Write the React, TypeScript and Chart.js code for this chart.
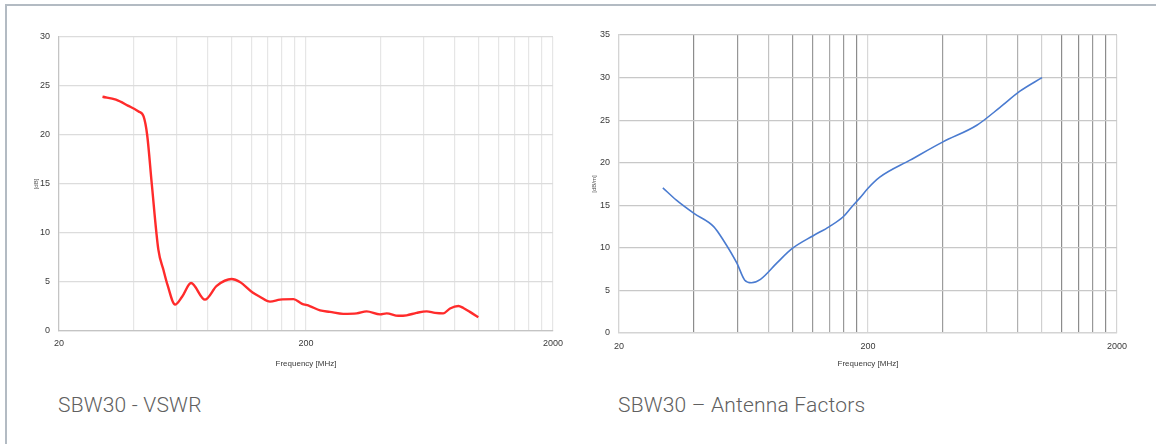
import React, { useEffect, useRef } from "react";
import { Chart, registerables } from "chart.js";

Chart.register(...registerables);

// ---- data ----
const X_TICKS = [20, 40, 60, 80, 100, 120, 140, 160, 180, 200, 400, 600, 800, 1000, 1200, 1400, 1600, 1800, 2000];
const X_LABELED = [20, 200, 2000];
const Y_TICKS_VSWR = [0, 5, 10, 15, 20, 25, 30];
const Y_TICKS_AF = [0, 5, 10, 15, 20, 25, 30, 35];

const VSWR_FREQ = [30, 34, 38, 42, 44, 45.5, 47.5, 50.5, 53, 55, 59, 63, 68.5, 78, 87, 100, 108, 122, 130, 143, 157, 178, 192, 207, 228, 250, 283, 321, 352, 399, 424, 473, 511, 561, 616, 666, 719, 766, 828, 867, 922, 997];
const VSWR_VAL = [23.9, 23.6, 23.0, 22.4, 21.9, 20.0, 15.0, 8.3, 6.2, 4.7, 2.7, 3.5, 4.9, 3.2, 4.6, 5.3, 5.0, 3.9, 3.5, 3.0, 3.2, 3.25, 2.8, 2.55, 2.1, 1.95, 1.75, 1.8, 2.0, 1.7, 1.8, 1.55, 1.6, 1.85, 2.0, 1.85, 1.8, 2.3, 2.55, 2.35, 1.95, 1.4];

const AF_FREQ = [30, 34, 40, 48, 52.5, 59.5, 64, 68, 74, 86, 99, 120, 140, 159, 172, 186, 200, 223, 295, 400, 547, 678, 815, 1000];
const AF_VAL = [17.05, 15.6, 14.05, 12.5, 10.9, 8.2, 6.2, 5.9, 6.3, 8.2, 9.9, 11.4, 12.5, 13.65, 14.8, 15.9, 17.0, 18.3, 20.3, 22.45, 24.4, 26.5, 28.4, 30.0];

// grid shades of the right chart's vertical lines (style)
const AF_GRID_SHADE: Record<number, string> = {
  20: "#d8d8d8", 40: "#8c8c8c", 60: "#969696", 80: "#c2c2c2", 100: "#989898", 120: "#989898", 140: "#a8a8a8",
  160: "#989898", 180: "#8c8c8c", 200: "#d8d8d8", 400: "#9c9c9c", 600: "#c6c6c6", 800: "#b0b0b0",
  1000: "#d0d0d0", 1200: "#8c8c8c", 1400: "#8c8c8c", 1600: "#989898", 1800: "#8c8c8c", 2000: "#d4d4d4",
};

const TICK_FONT = { family: "'Liberation Sans', Arial, sans-serif", size: 9 };
const TITLE_FONT = { family: "'Liberation Sans', Arial, sans-serif", size: 8 };

function makeConfig(opts: {
  freq: number[];
  vals: number[];
  yTicks: number[];
  color: string;
  width: number;
  yTitle: string;
  padding: { left: number; right: number; top: number; bottom: number };
  yWidth: number;
  xHeight: number;
  yTitlePad: number;
  xTickPad: number;
  vGrid: (v: number) => string;
  hGrid: string;
  border: string;
}) {
  const data = opts.freq.map((f, i) => ({ x: f, y: opts.vals[i] }));
  return {
    type: "line" as const,
    data: {
      datasets: [
        {
          data,
          borderColor: opts.color,
          borderWidth: opts.width,
          pointRadius: 0,
          fill: false,
          tension: 0.4,
          cubicInterpolationMode: "monotone" as const,
        },
      ],
    },
    options: {
      responsive: false,
      animation: false as const,
      layout: { padding: opts.padding },
      plugins: { legend: { display: false }, tooltip: { enabled: false } },
      scales: {
        x: {
          type: "logarithmic" as const,
          min: 20,
          max: 2000,
          afterBuildTicks: (scale: any) => {
            scale.ticks = X_TICKS.map((v) => ({ value: v }));
          },
          afterFit: (scale: any) => {
            scale.height = opts.xHeight;
          },
          ticks: {
            autoSkip: false,
            maxRotation: 0,
            padding: opts.xTickPad,
            color: "#3a3a3a",
            font: TICK_FONT,
            callback: (v: any) => (X_LABELED.includes(Number(v)) ? String(v) : ""),
          },
          grid: {
            drawTicks: false,
            color: (ctx: any) => opts.vGrid(ctx.tick ? ctx.tick.value : 0),
            lineWidth: 1.2,
          },
          border: { color: opts.border, width: 1.2 },
          title: {
            display: true,
            text: "Frequency [MHz]",
            color: "#3a3a3a",
            font: TITLE_FONT,
            padding: { top: 0, bottom: 11 },
          },
        },
        y: {
          min: opts.yTicks[0],
          max: opts.yTicks[opts.yTicks.length - 1],
          afterBuildTicks: (scale: any) => {
            scale.ticks = opts.yTicks.map((v) => ({ value: v }));
          },
          afterFit: (scale: any) => {
            scale.width = opts.yWidth;
          },
          ticks: {
            padding: 9,
            color: "#3a3a3a",
            font: TICK_FONT,
          },
          grid: { drawTicks: false, color: opts.hGrid, lineWidth: 1.2 },
          border: { color: opts.border, width: 1.2 },
          title: {
            display: true,
            text: opts.yTitle,
            color: "#555",
            font: { family: "'Liberation Sans', Arial, sans-serif", size: 6 },
            padding: { top: opts.yTitlePad, bottom: 0 },
          },
        },
      },
    },
  };
}

function ChartBox(props: { left: number; top: number; width: number; height: number; config: any }) {
  const ref = useRef<HTMLCanvasElement | null>(null);
  useEffect(() => {
    if (!ref.current) return;
    const chart = new Chart(ref.current, props.config);
    return () => chart.destroy();
  }, []);
  return (
    <canvas
      ref={ref}
      width={props.width}
      height={props.height}
      style={{ position: "absolute", left: props.left, top: props.top, width: props.width, height: props.height }}
    />
  );
}

export default function App() {
  const vswrConfig = makeConfig({
    freq: VSWR_FREQ,
    vals: VSWR_VAL,
    yTicks: Y_TICKS_VSWR,
    color: "#ff2b2b",
    width: 2.4,
    yTitle: "[dB]",
    padding: { left: 9, right: 17, top: 17, bottom: 0 },
    yWidth: 40,
    xHeight: 49,
    yTitlePad: 14,
    xTickPad: 7,
    vGrid: () => "#e6e6e6",
    hGrid: "#dcdcdc",
    border: "#c4c4c4",
  });
  const afConfig = makeConfig({
    freq: AF_FREQ,
    vals: AF_VAL,
    yTicks: Y_TICKS_AF,
    color: "#4a7bd0",
    width: 1.6,
    yTitle: "[dB/m]",
    padding: { left: 0, right: 23, top: 15, bottom: 0 },
    yWidth: 39,
    xHeight: 47,
    yTitlePad: 11,
    xTickPad: 8,
    vGrid: (v: number) => AF_GRID_SHADE[v] || "#cccccc",
    hGrid: "#c8c8c8",
    border: "#d4d4d4",
  });

  const caption: React.CSSProperties = {
    position: "absolute",
    top: 393,
    fontFamily: "Roboto, 'Liberation Sans', Arial, sans-serif",
    fontWeight: 300,
    fontSize: 21,
    letterSpacing: 0.2,
    lineHeight: "24px",
    color: "#606060",
    whiteSpace: "nowrap",
  };

  return (
    <div style={{ position: "absolute", left: 0, top: 0, width: 1156, height: 444, background: "#fff", overflow: "hidden" }}>
      <div
        style={{
          position: "absolute",
          left: 5,
          top: 4,
          width: 1160,
          height: 450,
          borderTop: "2px solid #b3bbc3",
          borderLeft: "2px solid #b3bbc3",
        }}
      />
      <ChartBox left={10} top={20} width={560} height={360} config={vswrConfig} />
      <ChartBox left={580} top={20} width={560} height={360} config={afConfig} />
      <div style={{ ...caption, left: 58 }}>SBW30 - VSWR</div>
      <div style={{ ...caption, left: 618 }}>SBW30 – Antenna Factors</div>
    </div>
  );
}
